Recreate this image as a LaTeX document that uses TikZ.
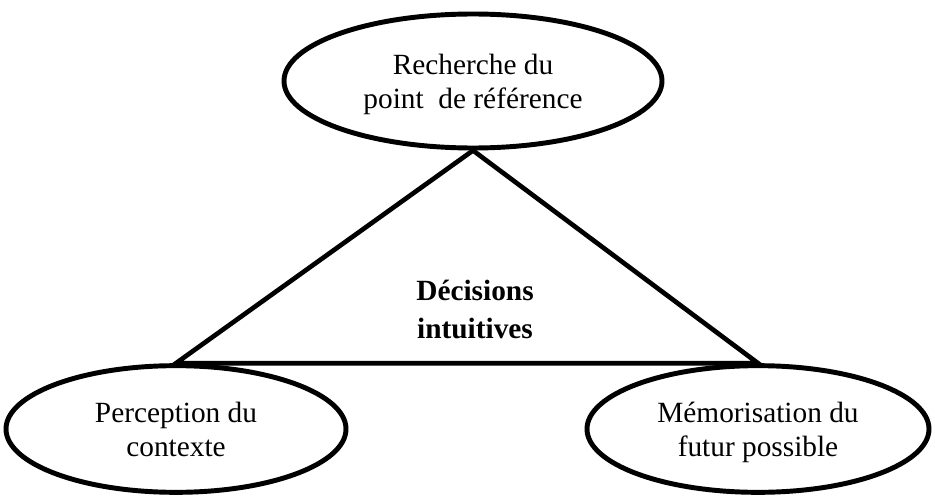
\documentclass[tikz,border=0pt]{standalone}
\usepackage{fontspec}
\setmainfont{Liberation Serif}
\usetikzlibrary{shapes.geometric}
% invisible rules: fixed height for a first line, fixed depth for a last line
\newcommand{\firstln}{\rule{0pt}{21pt}}
\newcommand{\lastln}{\rule[-5.25pt]{0pt}{5.25pt}}
\begin{document}
\begin{tikzpicture}[x=0.75pt,y=-0.75pt,
  bubble/.style={ellipse,draw,line width=3.7pt,inner sep=0pt,align=center,
    font=\fontsize{22}{24.8}\selectfont},
  edge/.style={line width=3.5pt,line join=miter},
  core/.style={align=center,inner sep=0pt,
    font=\fontsize{22}{28.5}\selectfont\bfseries}]
\useasboundingbox (0,0) rectangle (935,499);
% the three ellipses
\node[bubble,minimum width=283.5pt,minimum height=100.5pt] (top) at (473,81)
  {\firstln Recherche du\\point\ \ de référence\lastln};
\node[bubble,minimum width=255pt,minimum height=95pt] (left) at (176,429)
  {\firstln Perception du\\contexte\lastln};
\node[bubble,minimum width=256.5pt,minimum height=95pt] (right) at (758,429)
  {\firstln Mémorisation du\\futur possible\lastln};
% the triangle between them
\draw[edge] (top.south) -- (left.north) -- (right.north) -- cycle;
% label in the middle
\node[core] (mid) at (475,308.5) {\firstln Décisions\\intuitives\lastln};
\end{tikzpicture}
\end{document}
